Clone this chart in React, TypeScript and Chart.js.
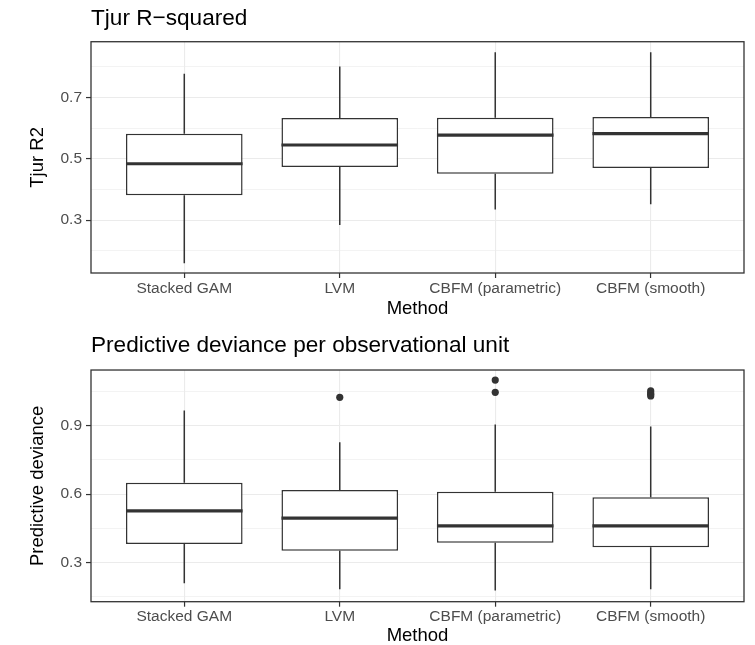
import React, { useEffect, useRef } from "react";
import { Chart, registerables } from "chart.js";
Chart.register(...registerables);

// ---------- data ----------
const methods = ["Stacked GAM", "LVM", "CBFM (parametric)", "CBFM (smooth)"];

const tjurLow = [0.16, 0.284, 0.335, 0.352];
const tjurQ1 = [0.381, 0.473, 0.451, 0.47];
const tjurMedian = [0.484, 0.545, 0.577, 0.582];
const tjurQ3 = [0.582, 0.633, 0.634, 0.636];
const tjurHigh = [0.777, 0.801, 0.847, 0.847];
const tjurOutliers: number[][] = [[], [], [], []];
const tjurMajorTicks = [0.3, 0.5, 0.7];
const tjurMinorTicks = [0.2, 0.4, 0.6, 0.8];
const tjurRange = [0.128, 0.8815];

const devLow = [0.208, 0.182, 0.176, 0.182];
const devQ1 = [0.381, 0.351, 0.386, 0.366];
const devMedian = [0.526, 0.494, 0.46, 0.46];
const devQ3 = [0.65, 0.618, 0.61, 0.586];
const devHigh = [0.967, 0.828, 0.906, 0.897];
const devOutliers: number[][] = [[], [1.025], [1.101, 1.047], [1.054, 1.045, 1.038, 1.031]];
const devMajorTicks = [0.3, 0.6, 0.9];
const devMinorTicks = [0.15, 0.45, 0.75, 1.05];
const devRange = [0.127, 1.145];

const FONT = "'Liberation Sans', Arial, 'DejaVu Sans', sans-serif";
const DARK = "#333333";
const GRID = "#ebebeb";

type Stats = {
  low: number[];
  q1: number[];
  median: number[];
  q3: number[];
  high: number[];
};

function makeBoxPlugin(stats: Stats) {
  return {
    id: "boxStats",
    beforeDatasetsDraw(chart: any) {
      const xs = chart.scales.x;
      const ys = chart.scales.y;
      const ctx = chart.ctx;
      ctx.save();
      ctx.strokeStyle = DARK;
      ctx.lineWidth = 1.5;
      stats.low.forEach((lo, i) => {
        const px = xs.getPixelForValue(i);
        ctx.beginPath();
        ctx.moveTo(px, ys.getPixelForValue(lo));
        ctx.lineTo(px, ys.getPixelForValue(stats.q1[i]));
        ctx.moveTo(px, ys.getPixelForValue(stats.q3[i]));
        ctx.lineTo(px, ys.getPixelForValue(stats.high[i]));
        ctx.stroke();
      });
      ctx.restore();
    },
    afterDatasetsDraw(chart: any) {
      const xs = chart.scales.x;
      const ys = chart.scales.y;
      const ctx = chart.ctx;
      const meta = chart.getDatasetMeta(0);
      ctx.save();
      ctx.strokeStyle = DARK;
      ctx.lineWidth = 3.2;
      stats.median.forEach((m, i) => {
        const el = meta.data[i];
        const half = el.width / 2;
        const px = xs.getPixelForValue(i);
        const py = ys.getPixelForValue(m);
        ctx.beginPath();
        ctx.moveTo(px - half, py);
        ctx.lineTo(px + half, py);
        ctx.stroke();
      });
      const a = chart.chartArea;
      ctx.lineWidth = 1.3;
      ctx.strokeRect(a.left, a.top, a.right - a.left, a.bottom - a.top);
      ctx.restore();
    },
  };
}

type PanelProps = {
  title: string;
  yLabel: string;
  stats: Stats;
  outliers: number[][];
  range: number[];
  majorTicks: number[];
  minorTicks: number[];
  top: number;
  height: number;
  titlePadding: { top: number; bottom: number };
  xAxisHeight: number;
};

function BoxPanel(p: PanelProps) {
  const ref = useRef<HTMLCanvasElement>(null);
  useEffect(() => {
    if (!ref.current) return;
    const isMajor = (v: number) => p.majorTicks.some((t) => Math.abs(t - v) < 1e-9);
    const outlierPts: { x: number; y: number }[] = [];
    p.outliers.forEach((arr, i) => arr.forEach((v) => outlierPts.push({ x: i, y: v })));
    const chart = new Chart(ref.current, {
      type: "bar",
      data: {
        datasets: [
          {
            type: "bar",
            data: methods.map((_, i) => ({ x: i, y: [p.stats.q1[i], p.stats.q3[i]] })) as any,
            backgroundColor: "#ffffff",
            borderColor: DARK,
            borderWidth: 1.5,
            borderSkipped: false,
            categoryPercentage: 1,
            barPercentage: 0.75,
          } as any,
          {
            type: "scatter",
            data: outlierPts as any,
            backgroundColor: DARK,
            borderWidth: 0,
            pointRadius: 3.6,
          } as any,
        ],
      },
      options: {
        animation: false,
        responsive: false,
        layout: { padding: { left: 0, right: 11, top: 0, bottom: 0 } },
        plugins: {
          legend: { display: false },
          tooltip: { enabled: false },
          title: {
            display: true,
            text: p.title,
            align: "start",
            fullSize: false,
            color: "#000",
            font: { family: FONT, size: 22.6, weight: "normal" },
            padding: p.titlePadding,
          },
        },
        scales: {
          x: {
            type: "linear",
            offset: false,
            min: -0.6,
            max: 3.6,
            afterBuildTicks: (scale: any) => {
              scale.ticks = methods.map((_, i) => ({ value: i }));
            },
            afterFit: (scale: any) => {
              scale.height = p.xAxisHeight;
            },
            ticks: {
              autoSkip: false,
              maxRotation: 0,
              minRotation: 0,
              padding: 1,
              color: "#4d4d4d",
              font: { family: FONT, size: 15.5 },
              callback: (v: any) => methods[Math.round(Number(v))] ?? "",
            },
            grid: {
              offset: false,
              color: GRID,
              lineWidth: 1.1,
              tickColor: DARK,
              tickLength: 5,
              tickWidth: 1.2,
            },
            border: { display: false },
            title: {
              display: true,
              text: "Method",
              color: "#000",
              font: { family: FONT, size: 18.5 },
              padding: { top: 0, bottom: 0 },
            },
          },
          y: {
            type: "linear",
            min: p.range[0],
            max: p.range[1],
            afterBuildTicks: (scale: any) => {
              scale.ticks = [...p.minorTicks, ...p.majorTicks]
                .sort((a, b) => a - b)
                .map((v) => ({ value: v }));
            },
            afterFit: (scale: any) => {
              scale.width = 91;
            },
            ticks: {
              padding: 4,
              color: "#4d4d4d",
              font: { family: FONT, size: 15.5 },
              callback: (v: any) => (isMajor(Number(v)) ? Number(v).toFixed(1) : ""),
            },
            grid: {
              color: GRID,
              lineWidth: (c: any) => (isMajor(c.tick?.value) ? 1.1 : 0.6),
              tickColor: (c: any) => (isMajor(c.tick?.value) ? DARK : "rgba(0,0,0,0)"),
              tickLength: 5,
              tickWidth: 1.2,
            },
            border: { display: false },
            title: {
              display: true,
              text: p.yLabel,
              color: "#000",
              font: { family: FONT, size: 18.5 },
              padding: { top: 27, bottom: 0 },
            },
          },
        },
      } as any,
      plugins: [makeBoxPlugin(p.stats)],
    });
    return () => chart.destroy();
  }, []);
  return (
    <div style={{ position: "absolute", left: 0, top: p.top }}>
      <canvas ref={ref} width={755} height={p.height} style={{ display: "block" }} />
    </div>
  );
}

export default function App() {
  return (
    <div
      style={{
        position: "absolute",
        left: 0,
        top: 0,
        width: 755,
        height: 645,
        overflow: "hidden",
        background: "#ffffff",
      }}
    >
      <BoxPanel
        title="Tjur R−squared"
        yLabel="Tjur R2"
        stats={{ low: tjurLow, q1: tjurQ1, median: tjurMedian, q3: tjurQ3, high: tjurHigh }}
        outliers={tjurOutliers}
        range={tjurRange}
        majorTicks={tjurMajorTicks}
        minorTicks={tjurMinorTicks}
        top={0}
        height={320}
        titlePadding={{ top: 4.8, bottom: 9.8 }}
        xAxisHeight={47}
      />
      <BoxPanel
        title="Predictive deviance per observational unit"
        yLabel="Predictive deviance"
        stats={{ low: devLow, q1: devQ1, median: devMedian, q3: devQ3, high: devHigh }}
        outliers={devOutliers}
        range={devRange}
        majorTicks={devMajorTicks}
        minorTicks={devMinorTicks}
        top={320}
        height={327}
        titlePadding={{ top: 11.8, bottom: 11.1 }}
        xAxisHeight={45.3}
      />
    </div>
  );
}
